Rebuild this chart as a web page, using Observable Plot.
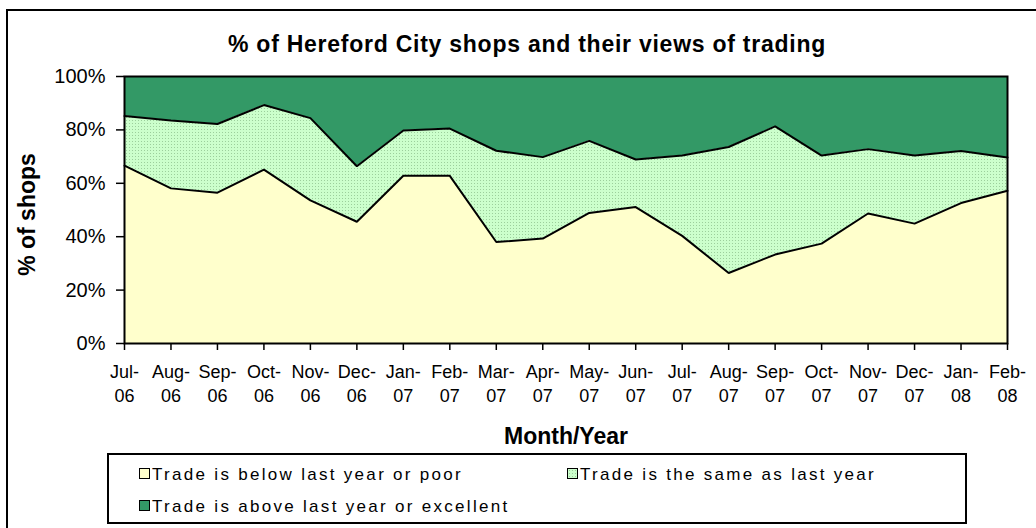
<!DOCTYPE html>
<html>
<head>
<meta charset="utf-8">
<script src="https://cdn.jsdelivr.net/npm/d3@7"></script>
<script src="https://cdn.jsdelivr.net/npm/@observablehq/plot@0.6"></script>
<style>
  html, body { margin: 0; padding: 0; background: #fff; }
  body { font-family: Arial, "Liberation Sans", sans-serif; }
  #wrap { position: relative; width: 1036px; height: 528px; overflow: hidden; background: #fff; }
  #outer { position: absolute; left: 6px; top: 9px; width: 1200px; height: 700px; border: 2px solid #000; box-sizing: border-box; }
  #title { position: absolute; left: 0; width: 1054px; top: 33px; text-align: center; font-weight: bold; font-size: 23px; line-height: 23px; letter-spacing: 0.75px; white-space: nowrap; color: #000; }
  #chart { position: absolute; left: 0; top: 60px; }
  #legend { position: absolute; left: 107px; top: 453px; width: 860px; height: 71px; border: 2px solid #000; box-sizing: border-box; background: #fff; }
  .item { position: absolute; font-size: 17px; letter-spacing: 2.3px; line-height: 17px; white-space: nowrap; color: #000; }
  .sw { position: absolute; width: 11px; height: 11px; border: 1.5px solid #000; box-sizing: border-box; }
</style>
</head>
<body>
<div id="wrap">
  <div id="outer"></div>
  <div id="title"></div>
  <div id="chart"></div>
  <div id="legend"></div>
</div>
<script>
const titleText = "% of Hereford City shops and their views of trading";
const xTitle = "Month/Year";
const yTitle = "% of shops";

const months = ["Jul-06","Aug-06","Sep-06","Oct-06","Nov-06","Dec-06","Jan-07","Feb-07","Mar-07","Apr-07",
                "May-07","Jun-07","Jul-07","Aug-07","Sep-07","Oct-07","Nov-07","Dec-07","Jan-08","Feb-08"];

const categories = ["Trade is below last year or poor", "Trade is the same as last year", "Trade is above last year or excellent"];

const below = [66.6, 58.1, 56.5, 65.1, 53.6, 45.6, 62.8, 62.8, 38.0, 39.3, 48.9, 51.1, 40.3, 26.4, 33.3, 37.4, 48.7, 44.9, 52.6, 57.2];
const same  = [18.6, 25.4, 25.7, 24.2, 30.8, 20.8, 17.0, 17.7, 34.2, 30.5, 27.0, 17.8, 30.1, 47.2, 48.0, 33.0, 24.1, 25.5, 19.5, 12.5];
const above = [14.8, 16.5, 17.8, 10.7, 15.6, 33.6, 20.2, 19.5, 27.8, 30.2, 24.1, 31.1, 29.6, 26.4, 18.7, 29.6, 27.2, 29.6, 27.9, 30.3];

const yTicks = [0, 20, 40, 60, 80, 100];

const colors = ["#ffffcc", "url(#dots)", "#339966"];

const series = [below, same, above];
const rows = months.flatMap((m, i) => categories.map((c, k) => ({month: m, cat: c, value: series[k][i]})));

document.getElementById("title").textContent = titleText;

const svg = Plot.plot({
  width: 1036,
  height: 393,
  marginTop: 16,
  marginBottom: 110,
  marginLeft: 124,
  marginRight: 29,
  style: {fontFamily: 'Arial, "Liberation Sans", sans-serif', fontSize: "18px", color: "#000", background: "transparent", overflow: "visible"},
  x: {type: "point", domain: months, padding: 0, round: false},
  y: {domain: [0, 100]},
  color: {domain: categories, range: colors},
  marks: [
    Plot.areaY(rows, {x: "month", y: "value", fill: "cat", z: "cat", order: categories, curve: "linear"}),
    Plot.lineY(rows, Plot.stackY2({x: "month", y: "value", z: "cat", order: categories,
      filter: d => d.cat !== categories[2], stroke: "#000", strokeWidth: 2, strokeLinejoin: "miter"})),
    Plot.frame({stroke: "#000", strokeWidth: 2}),
    Plot.axisY({ticks: yTicks, tickFormat: d => d + "%", tickSize: 8, tickPadding: 11, fontSize: 20, label: null, strokeWidth: 1.5}),
    Plot.axisX({tickSize: 7, tickPadding: 11, fontSize: 18, lineHeight: 1.33, tickFormat: d => d.replace("-", "-\n"), label: null, strokeWidth: 1.5}),
    Plot.text([xTitle], {frameAnchor: "bottom", dy: 84, lineAnchor: "top", fontWeight: "bold", fontSize: 23, text: d => d}),
    Plot.text([yTitle], {frameAnchor: "left", dx: -106, dy: 4.5, rotate: -90, lineAnchor: "top", textAnchor: "middle", fontWeight: "bold", fontSize: 23, text: d => d})
  ]
});

const defs = d3.select(svg).insert("defs", ":first-child");
const pat = defs.append("pattern").attr("id", "dots").attr("width", 3).attr("height", 3).attr("patternUnits", "userSpaceOnUse");
pat.append("rect").attr("width", 3).attr("height", 3).attr("fill", "#ccffcc");
pat.append("rect").attr("width", 1).attr("height", 1).attr("fill", "#9ccf9c");

document.getElementById("chart").appendChild(svg);

// legend
const legend = d3.select("#legend");
const legendPos = [{x: 30, y: 11}, {x: 458, y: 11}, {x: 30, y: 43}];
const swatchCss = [
  "background:#ffffcc;",
  "background-color:#ccffcc;background-image:radial-gradient(#9ccf9c 0.6px, transparent 0.7px);background-size:3px 3px;",
  "background:#339966;"
];
categories.forEach((c, k) => {
  const p = legendPos[k];
  legend.append("div").attr("class", "sw").attr("style", `left:${p.x}px;top:${p.y + 2}px;${swatchCss[k]}`);
  legend.append("div").attr("class", "item").style("left", (p.x + 13) + "px").style("top", p.y + "px").text(c);
});
</script>
</body>
</html>
